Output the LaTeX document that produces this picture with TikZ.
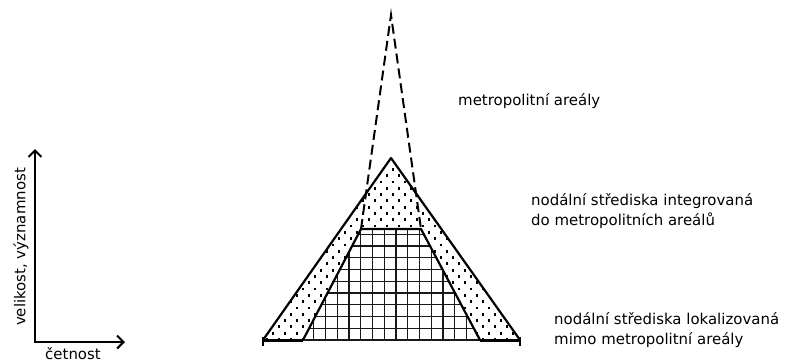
\documentclass[tikz,border=0pt]{standalone}
\usepackage{fontspec}
\setmainfont{DejaVu Sans}
\usetikzlibrary{arrows.meta}
\begin{document}
\begin{tikzpicture}[x=1bp,y=-1bp,
  lbl/.style={font=\fontsize{15}{20}\selectfont, inner sep=0pt, anchor=west, align=left},
  axlbl/.style={font=\fontsize{15}{18}\selectfont, inner sep=0pt},
  solidedge/.style={line width=2.2bp, line join=round},
  dashedge/.style={line width=2bp, dash pattern=on 10bp off 5bp},
  gridline/.style={line width=1.4bp, black!90},
  baseend/.style={line width=3bp},
  axis/.style={line width=2.2bp, line join=miter,
    {Straight Barb[length=6.5bp,width=13bp,line width=2bp]}-{Straight Barb[length=6.5bp,width=13bp,line width=2bp]}}]
\useasboundingbox (0,0) rectangle (786,363);
\coordinate (peak) at (391,15);
\coordinate (apex) at (391,158);
\coordinate (bl) at (263,340);
\coordinate (br) at (520,340);
\coordinate (tl) at (361,229);
\coordinate (tr) at (421,229);
\coordinate (ml) at (303,340);
\coordinate (mr) at (480,340);
% dotted band
\begin{scope}[even odd rule]
  \clip (apex)--(bl)--(br)--cycle (tl)--(ml)--(mr)--(tr)--cycle;
  \foreach \j in {0,...,30}{
    \pgfmathsetmacro\yy{163+6.3*\j}
    \pgfmathsetmacro\off{6*mod(\j,2)}
    \foreach \i in {0,...,22}{
      \fill (255+\off+12*\i-1.4, \yy-1.4) rectangle ++(2.8,2.8);
    }
  }
\end{scope}
% grid
\begin{scope}
  \clip (tl)--(ml)--(mr)--(tr)--cycle;
  \foreach \k in {-6,...,10}{\draw[gridline] (360.7+11.75*\k,225) -- ++(0,120);}
  \foreach \k in {1,...,9}{\draw[gridline] (290,340-11.75*\k) -- (500,340-11.75*\k);}
\end{scope}
\draw[gridline] (ml) -- (mr);
% outlines
\draw[solidedge] (bl) -- (apex) -- (br);
\draw[solidedge] (ml) -- (tl) -- (tr) -- (mr);
\draw[baseend] (bl) -- (ml);
\draw[baseend] (mr) -- (br);
\draw[line width=1.8bp] (bl) ++(0,-3) -- ++(0,9);
\draw[line width=1.8bp] (br) ++(0,-3) -- ++(0,9);
\draw[dashedge] (tl) -- (peak) -- (tr);
% labels
\node[lbl] (metro) at (458,101) {metropolitní areály};
\node[lbl] (integ) at (531,211) {nodální střediska integrovaná\\do metropolitních areálů};
\node[lbl] (lokal) at (554,330) {nodální střediska lokalizovaná\\mimo metropolitní areály};
% axes
\coordinate (origin) at (35,342);
\coordinate (ytip) at (35,149);
\coordinate (xtip) at (125,342);
\draw[axis] (ytip) -- (origin) -- (xtip);
\node[axlbl] (cet) at (73,354) {četnost};
\node[axlbl, rotate=90] (vel) at (21,247) {velikost, významnost};
\end{tikzpicture}
\end{document}
